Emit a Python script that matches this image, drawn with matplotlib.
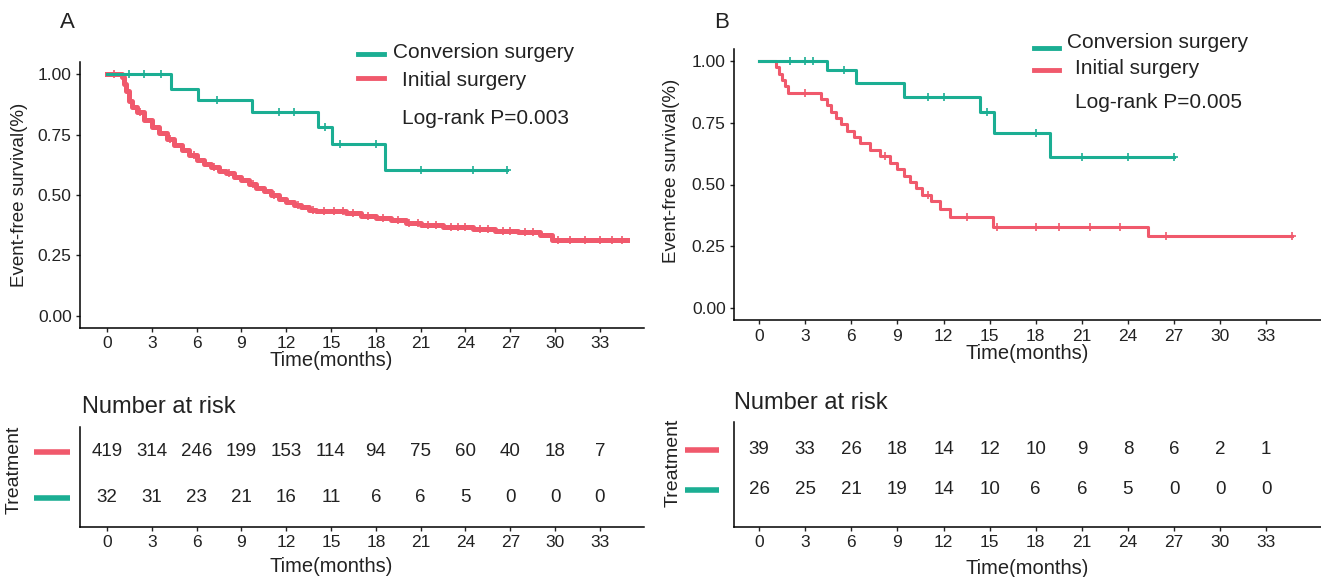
import matplotlib
matplotlib.use("Agg")
import matplotlib.pyplot as plt
import matplotlib.transforms as mtransforms
import numpy as np

plt.rcParams['font.family'] = ['Liberation Sans', 'DejaVu Sans']

# ---------------- data ----------------
time_ticks = [0, 3, 6, 9, 12, 15, 18, 21, 24, 27, 30, 33]

# Panel A
a_init_t = [0, 1.0, 1.15, 1.3, 1.5, 1.7, 2.0, 2.5, 3.0, 3.5, 4.0, 4.5, 5.0, 5.5, 6.0, 6.5,
            7.0, 7.5, 8.0, 8.5, 9.0, 9.5, 10.0, 10.5, 11.0, 11.5, 12.0, 12.5, 13.0, 13.5,
            14.0, 16.0, 17.0, 18.0, 19.0, 20.0, 21.0, 22.5, 24.5, 26.0, 27.5, 29.0, 29.8, 34.8]
a_init_s = [1.0, 0.99, 0.96, 0.93, 0.89, 0.865, 0.845, 0.81, 0.78, 0.755, 0.73, 0.705, 0.685,
            0.665, 0.645, 0.63, 0.615, 0.60, 0.59, 0.575, 0.56, 0.545, 0.53, 0.515, 0.50,
            0.485, 0.47, 0.46, 0.45, 0.44, 0.435, 0.425, 0.415, 0.405, 0.395, 0.385, 0.375,
            0.368, 0.36, 0.352, 0.345, 0.335, 0.314, 0.314]
a_init_cens = [0.5, 2.2, 4.2, 5.8, 7.2, 8.2, 9.8, 11.2, 12.8, 13.8, 14.5, 15.2, 15.8, 16.5,
               17.5, 18.5, 19.5, 20.2, 20.8, 21.5, 22.0, 23.0, 23.5, 24.0, 25.0, 25.5, 26.5,
               27.0, 28.0, 28.5, 30.2, 31.0, 32.0, 33.0, 33.8, 34.5]
a_conv_t = [0, 4.3, 6.1, 9.7, 14.1, 15.1, 18.6, 26.8]
a_conv_s = [1.0, 0.938, 0.893, 0.845, 0.783, 0.712, 0.603, 0.603]
a_conv_cens = [1.5, 2.5, 3.6, 7.4, 11.5, 12.5, 14.6, 15.6, 18.0, 21.0, 24.5, 26.8]

a_risk_init = [419, 314, 246, 199, 153, 114, 94, 75, 60, 40, 18, 7]
a_risk_conv = [32, 31, 23, 21, 16, 11, 6, 6, 5, 0, 0, 0]

# Panel B
b_init_t = [0, 1.1, 1.3, 1.5, 1.7, 1.9, 4.0, 4.4, 4.7, 5.0, 5.3, 5.7, 6.2, 6.6, 7.2, 7.9,
            8.5, 9.0, 9.4, 9.8, 10.2, 10.6, 11.2, 11.8, 12.4, 15.2, 25.3, 34.7]
b_init_s = [1.0, 0.974, 0.949, 0.923, 0.897, 0.872, 0.846, 0.820, 0.795, 0.769, 0.743, 0.717,
            0.692, 0.666, 0.640, 0.614, 0.588, 0.562, 0.536, 0.510, 0.484, 0.458, 0.432,
            0.40, 0.368, 0.33, 0.29, 0.29]
b_init_cens = [3.0, 8.2, 11.0, 13.5, 15.5, 18.0, 19.5, 21.5, 23.5, 26.5, 34.7]
b_conv_t = [0, 4.4, 6.3, 9.45, 14.4, 15.3, 18.9, 27.0]
b_conv_s = [1.0, 0.964, 0.912, 0.856, 0.795, 0.71, 0.613, 0.613]
b_conv_cens = [2.0, 3.0, 3.5, 5.5, 11.0, 12.0, 14.8, 18.0, 21.0, 24.0, 27.0]

b_risk_init = [39, 33, 26, 18, 14, 12, 10, 9, 8, 6, 2, 1]
b_risk_conv = [26, 25, 21, 19, 14, 10, 6, 6, 5, 0, 0, 0]

RED = '#F0596C'
GREEN = '#1BAE93'
TXT = '#222222'

W, H = 1321, 577
fig = plt.figure(figsize=(W / 100, H / 100), dpi=100)


def fax(left, top, right, bottom):
    return fig.add_axes([left / W, 1 - bottom / H, (right - left) / W, (bottom - top) / H])


def step_y(ts, ss, x):
    idx = np.searchsorted(np.asarray(ts), x, side='right') - 1
    return np.asarray(ss)[idx]


def style(ax):
    for s in ['top', 'right']:
        ax.spines[s].set_visible(False)
    ax.spines['left'].set_linewidth(1.1)
    ax.spines['bottom'].set_linewidth(1.1)
    ax.tick_params(length=3, width=1, labelsize=12.5, colors=TXT, pad=3)


def km_panel(ax, it, isv, icens, ct, csv, ccens, xlim, lw_i, lw_c, xlab_x):
    ax.step(it, isv, where='post', color=RED, lw=lw_i, zorder=3)
    ax.step(ct, csv, where='post', color=GREEN, lw=lw_c, zorder=4)
    ax.plot(icens, step_y(it, isv, icens), ls='none', marker='+', ms=6, mew=1.2, color=RED, zorder=3)
    ax.plot(ccens, step_y(ct, csv, ccens), ls='none', marker='+', ms=6, mew=1.2, color=GREEN, zorder=4)
    ax.set_xlim(*xlim)
    ax.set_ylim(-0.05, 1.05)
    ax.set_xticks(time_ticks)
    ax.set_yticks([0, 0.25, 0.5, 0.75, 1.0])
    ax.set_yticklabels(['0.00', '0.25', '0.50', '0.75', '1.00'])
    ax.set_xlabel('Time(months)', fontsize=14.5, color=TXT, labelpad=1)
    ax.xaxis.set_label_coords(xlab_x, -0.085)
    ax.set_ylabel('Event-free survival(%)', fontsize=13.5, color=TXT, labelpad=4)
    style(ax)


def risk_panel(ax, ri, rc, xlim, ylim, bar_x, xlab_x):
    ax.set_xlim(*xlim)
    ax.set_ylim(*ylim)
    for t, n in zip(time_ticks, ri):
        ax.text(t, 2, str(n), ha='center', va='center', fontsize=13.5, color=TXT)
    for t, n in zip(time_ticks, rc):
        ax.text(t, 1, str(n), ha='center', va='center', fontsize=13.5, color=TXT)
    ax.set_xticks(time_ticks)
    ax.set_yticks([])
    tr = mtransforms.blended_transform_factory(ax.transAxes, ax.transData)
    ax.plot(bar_x, [2, 2], color=RED, lw=4, transform=tr, clip_on=False, solid_capstyle='butt')
    ax.plot(bar_x, [1, 1], color=GREEN, lw=4, transform=tr, clip_on=False, solid_capstyle='butt')
    ax.set_xlabel('Time(months)', fontsize=14.5, color=TXT)
    ax.xaxis.set_label_coords(xlab_x, -0.30)
    style(ax)


# Panel A
axA = fax(80, 62, 644, 328)
km_panel(axA, a_init_t, a_init_s, a_init_cens, a_conv_t, a_conv_s, a_conv_cens,
         (-1.8, 35.95), 3.6, 2.2, 0.445)
axA.yaxis.set_label_coords(-0.093, 0.5)

axAr = fax(80, 427, 644, 527)
risk_panel(axAr, a_risk_init, a_risk_conv, (-1.8, 35.95), (0.369, 2.543), [-0.082, -0.018], 0.445)

# Panel B
axB = fax(734, 48.6, 1321, 320.4)
km_panel(axB, b_init_t, b_init_s, b_init_cens, b_conv_t, b_conv_s, b_conv_cens,
         (-1.63, 36.56), 2.2, 2.2, 0.5)
axB.yaxis.set_label_coords(-0.092, 0.55)

axBr = fax(734, 422, 1321, 527)
risk_panel(axBr, b_risk_init, b_risk_conv, (-1.63, 36.56), (0.075, 2.7), [-0.084, -0.026], 0.5)

# Panel letters, legends, annotations
fig.text(67 / W, 1 - 22 / H, 'A', fontsize=16, ha='center', va='center', color=TXT)
fig.text(722 / W, 1 - 22 / H, 'B', fontsize=16, ha='center', va='center', color=TXT)


def legend(x_line, y_conv, y_init, x_txt_c, x_txt_i, y_txt_c, y_txt_i, y_p, ptxt):
    fig.add_artist(plt.Line2D([x_line[0] / W, x_line[1] / W], [1 - y_conv / H] * 2, color=GREEN, lw=3.5))
    fig.add_artist(plt.Line2D([x_line[0] / W, x_line[1] / W], [1 - y_init / H] * 2, color=RED, lw=3.5))
    fig.text(x_txt_c / W, 1 - y_txt_c / H, 'Conversion surgery', fontsize=15, va='center', color=TXT)
    fig.text(x_txt_i / W, 1 - y_txt_i / H, 'Initial surgery', fontsize=15, va='center', color=TXT)
    fig.text(x_txt_i / W, 1 - y_p / H, ptxt, fontsize=15, va='center', color=TXT)


legend((358, 384), 54, 78, 393, 402, 52, 81, 118, 'Log-rank P=0.003')
legend((1034, 1059), 48, 70, 1067, 1075, 43, 68, 103, 'Log-rank P=0.005')

fig.text(82 / W, 1 - 407 / H, 'Number at risk', fontsize=17, va='center', ha='left', color=TXT)
fig.text(734 / W, 1 - 403 / H, 'Number at risk', fontsize=17, va='center', ha='left', color=TXT)
fig.text(14 / W, 1 - 470 / H, 'Treatment', fontsize=14, rotation=90, va='center', ha='center', color=TXT)
fig.text(673 / W, 1 - 463 / H, 'Treatment', fontsize=14, rotation=90, va='center', ha='center', color=TXT)

fig.savefig('out.png', dpi=100)
